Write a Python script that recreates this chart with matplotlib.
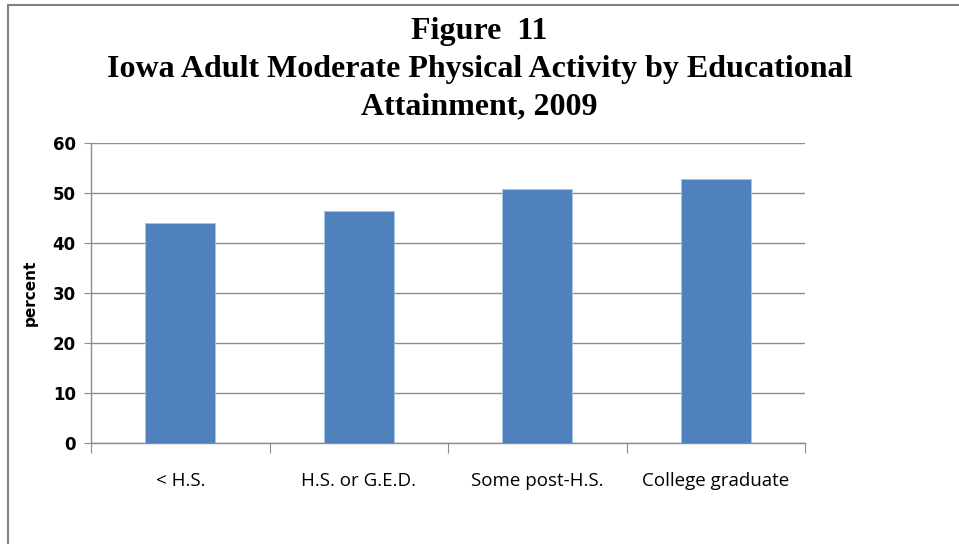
import matplotlib.pyplot as plt
from matplotlib.patches import Rectangle

# Iowa adult moderate physical activity, by education (2009)
categories = ["< H.S.", "H.S. or G.E.D.", "Some post-H.S.", "College graduate"]
percent = [44.0, 46.5, 50.9, 52.9]
yticks = [0, 10, 20, 30, 40, 50, 60]

bar_color = "#4F81BD"
grid_color = "#8C8C8C"

fig = plt.figure(figsize=(9.59, 5.44), dpi=100)

# outer chart frame (runs off the right and bottom edges)
fig.patches.append(Rectangle((8 / 959, -0.1), 1.2, 1.1 - 5 / 544,
                             transform=fig.transFigure, fill=False,
                             edgecolor="#808080", linewidth=1.5))

ax = fig.add_axes([91 / 959, 1 - 443 / 544, (805 - 91) / 959, 300 / 544])

xs = list(range(len(categories)))
ax.bar(xs, percent, width=0.39, color=bar_color, edgecolor="#A9C4E6",
       linewidth=0.6, zorder=3)

ax.set_xlim(-0.5, len(categories) - 0.5)
ax.set_ylim(0, 60)
ax.set_yticks(yticks)
ax.set_yticklabels([str(t) for t in yticks], fontsize=12, fontweight="bold",
                   family="DejaVu Sans")
ax.yaxis.grid(True, color=grid_color, linewidth=1.0, zorder=0)
ax.tick_params(axis="y", length=5, color=grid_color, pad=6)

# category labels sit between boundary ticks
ax.set_xticks([x - 0.5 for x in xs] + [len(categories) - 0.5])
ax.set_xticklabels([])
ax.set_xticks(xs, minor=True)
ax.set_xticklabels(categories, minor=True, fontsize=13.5, family="Open Sans")
ax.tick_params(axis="x", which="major", length=7, color=grid_color)
ax.tick_params(axis="x", which="minor", length=0, pad=21)

for side in ["top", "right"]:
    ax.spines[side].set_visible(False)
for side in ["left", "bottom"]:
    ax.spines[side].set_color(grid_color)
    ax.spines[side].set_linewidth(1.0)

ax.set_ylabel("percent", fontsize=11, fontweight="bold", family="DejaVu Sans")
ax.yaxis.set_label_coords(-0.075, 0.5)

title_kw = dict(ha="center", va="center", fontsize=23, fontweight="bold",
                family="Liberation Serif")
fig.text(0.5, 1 - 32 / 544, "Figure  11", **title_kw)
fig.text(0.5, 1 - 70 / 544,
         "Iowa Adult Moderate Physical Activity by Educational", **title_kw)
fig.text(0.5, 1 - 107 / 544, "Attainment, 2009", **title_kw)

fig.savefig("out.png", dpi=100)
